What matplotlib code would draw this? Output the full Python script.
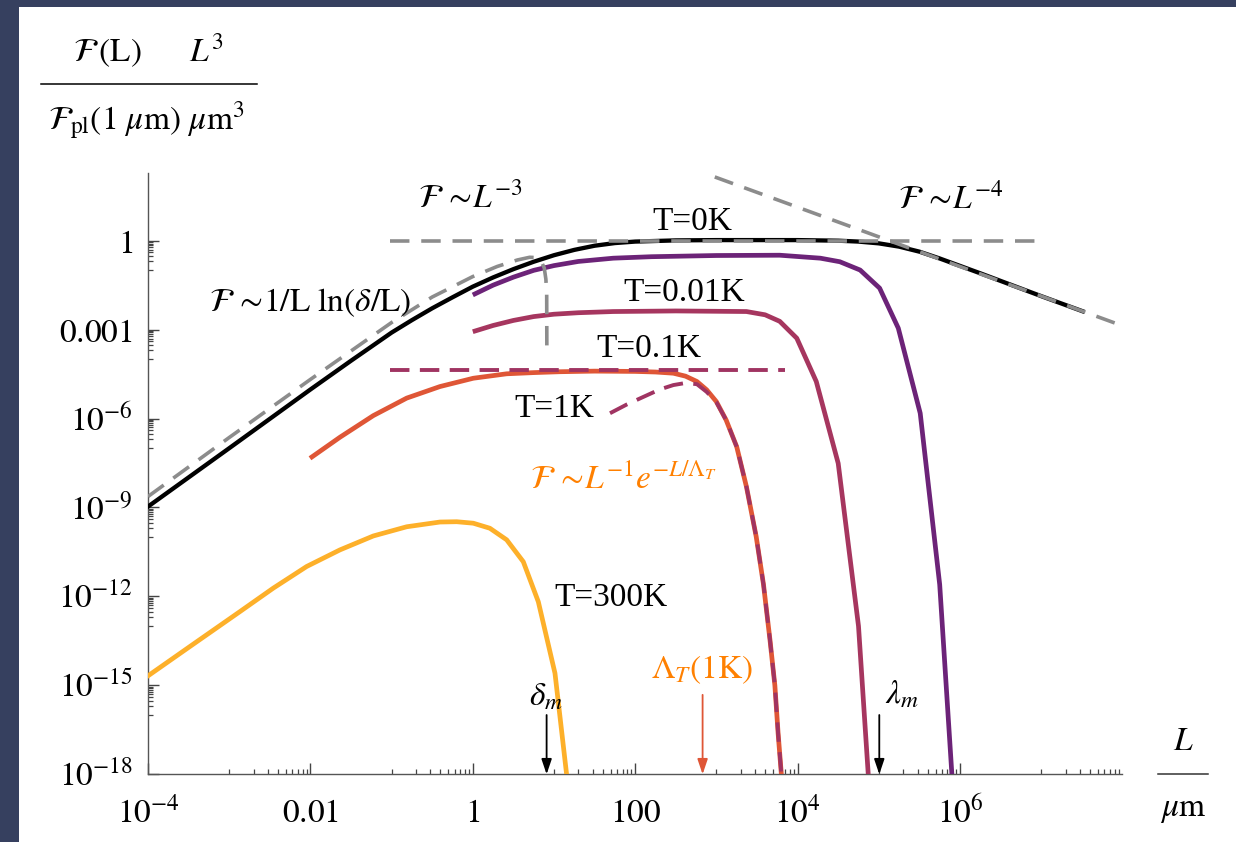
import numpy as np
import matplotlib
matplotlib.use('Agg')
import matplotlib.pyplot as plt
from matplotlib.patches import Rectangle
from matplotlib.lines import Line2D
from matplotlib.transforms import blended_transform_factory, ScaledTranslation

plt.rcParams['font.family'] = ['Liberation Serif', 'DejaVu Serif']
plt.rcParams['mathtext.fontset'] = 'stix'
plt.rcParams['lines.scale_dashes'] = False

# ---------------- data (log10 of L/um and of F L^3 / (F_pl(1um) um^3)) ----------------
t0_logL = [-4, -3, -2, -1.5, -1.0, -0.75, -0.5, -0.25, 0, 0.25, 0.5, 0.75, 1.0, 1.25, 1.5, 1.75, 2.0, 2.5,
           3.0, 4.0, 4.5, 4.75, 5.0, 5.25, 5.5, 5.75, 6.0, 6.25, 7.0, 7.51]
t0_logF = [-8.97, -7.0, -5.02, -4.05, -3.10, -2.68, -2.28, -1.91, -1.55, -1.24, -0.96, -0.71, -0.49, -0.31,
           -0.17, -0.08, -0.03, 0.01, 0.02, 0.02, 0.0, -0.03, -0.09, -0.2, -0.37, -0.6, -0.85, -1.1, -1.87, -2.38]

asym_ln_logL = [-4, -3, -2, -1, -0.5, 0, 0.3, 0.55, 0.7, 0.78, 0.84, 0.88, 0.9, 0.91, 0.912]
asym_ln_logF = [-8.63, -6.64, -4.68, -2.76, -1.9, -1.21, -0.87, -0.65, -0.56, -0.57, -0.68, -0.92, -1.3, -1.8, -3.7]

asym_flat_logL = [-1.02, 6.95]
asym_flat_logF = [0.0, 0.0]

asym_L4_logL = [2.98, 7.91]
asym_L4_logF = [2.15, -2.78]

t001_logL = [0.0, 0.25, 0.5, 0.75, 1.0, 1.3, 1.73, 2.2, 3.0, 3.78, 4.28, 4.52, 4.77, 5.01, 5.24, 5.51, 5.75, 5.90]
t001_logF = [-1.83, -1.5, -1.23, -1.0, -0.84, -0.7, -0.59, -0.54, -0.5, -0.49, -0.59, -0.71, -0.99, -1.6,
             -2.95, -5.82, -11.6, -18.0]

t01_logL = [0.0, 0.25, 0.5, 0.75, 1.0, 1.3, 1.73, 2.5, 3.37, 3.6, 3.78, 3.99, 4.23, 4.50, 4.75, 4.87]
t01_logF = [-3.07, -2.86, -2.69, -2.56, -2.48, -2.43, -2.39, -2.37, -2.39, -2.5, -2.72, -3.29, -4.75, -7.51,
            -13.0, -18.0]

t1_logL = [-2.005, -1.636, -1.225, -0.814, -0.404, 0.006, 0.417, 0.75, 1.074, 1.5, 2.0, 2.25, 2.47, 2.62, 2.76,
           2.88, 3.0, 3.12, 3.25, 3.37, 3.49, 3.58, 3.66, 3.72, 3.76, 3.80]
t1_logF = [-7.34, -6.63, -5.90, -5.31, -4.92, -4.64, -4.49, -4.45, -4.42, -4.40, -4.41, -4.43, -4.47, -4.57,
           -4.75, -5.03, -5.43, -6.05, -6.95, -8.3, -9.98, -11.6, -13.47, -15.0, -16.62, -18.0]

t1_asym_logL = [1.69, 1.9, 2.14, 2.3, 2.47, 2.62, 2.76, 2.88, 3.0, 3.12, 3.25, 3.37, 3.49, 3.58, 3.66, 3.72, 3.76, 3.80]
t1_asym_logF = [-5.82, -5.52, -5.22, -5.02, -4.87, -4.80, -4.84, -5.10, -5.45, -6.05, -6.95, -8.3, -9.98,
                -11.6, -13.47, -15.0, -16.62, -18.0]

t01_flat_logL = [-1.02, 3.84]
t01_flat_logF = [-4.36, -4.36]

t300_logL = [-4.016, -3.5, -2.867, -2.457, -2.046, -1.636, -1.225, -0.814, -0.404, -0.198, 0.006, 0.21, 0.417,
             0.622, 0.807, 1.012, 1.156]
t300_logF = [-14.71, -13.72, -12.51, -11.72, -10.99, -10.43, -9.96, -9.65, -9.49, -9.48, -9.53, -9.70, -10.09,
             -10.83, -12.18, -14.59, -18.02]

# markers on the L axis (log10 of L/um)
delta_m_logL = 0.909
lambda_m_logL = 5.006
Lambda_T_logL = 2.83

x_tick_vals = [1e-4, 1e-2, 1, 1e2, 1e4, 1e6]
x_tick_labels = [r'$10^{-4}$', r'$0.01$', r'$1$', r'$100$', r'$10^{4}$', r'$10^{6}$']
y_tick_vals = [1e-18, 1e-15, 1e-12, 1e-9, 1e-6, 1e-3, 1]
y_tick_labels = [r'$10^{-18}$', r'$10^{-15}$', r'$10^{-12}$', r'$10^{-9}$', r'$10^{-6}$', r'$0.001$', r'$1$']

# ---------------- figure ----------------
W, H = 1236, 842
fig = plt.figure(figsize=(W / 100, H / 100), dpi=100)
fig.patch.set_facecolor('#36405f')
fig.patches.append(Rectangle((19 / W, 0), 1, 1 - 7 / H, transform=fig.transFigure,
                             facecolor='white', edgecolor='none', zorder=-10))

ax = fig.add_axes([148 / W, 1 - 774.3 / H, 974.4 / W, 601.2 / H])
ax.set_xscale('log')
ax.set_yscale('log')
ax.set_xlim(1e-4, 1e8)
ax.set_ylim(1e-18, 10 ** 2.28)
ax.patch.set_alpha(0)

for s in ['top', 'right']:
    ax.spines[s].set_visible(False)
for s in ['left', 'bottom']:
    ax.spines[s].set_color('#555555')
    ax.spines[s].set_linewidth(1.0)

P = lambda a: np.power(10.0, np.asarray(a, dtype=float))

GRAY = '#8c8c8c'
MAROON = '#a03462'
kw = dict(lw=3.4, solid_joinstyle='round', solid_capstyle='butt', zorder=3)

ax.plot(P(t300_logL), P(t300_logF), color='#fdb02a', **kw)
ax.plot(P(t1_logL), P(t1_logF), color='#df5636', **kw)
ax.plot(P(t01_logL), P(t01_logF), color='#a6365f', **kw)
ax.plot(P(t001_logL), P(t001_logF), color='#6c2378', **kw)
ax.plot(P(t0_logL), P(t0_logF), color='black', lw=3.1, solid_joinstyle='round', zorder=4)

ax.plot(P(asym_ln_logL), P(asym_ln_logF), color=GRAY, lw=2.6, dashes=(14, 8.5), zorder=5)
ax.plot(P(asym_flat_logL), P(asym_flat_logF), color=GRAY, lw=2.6, dashes=(14, 8.5), zorder=5)
ax.plot(P(asym_L4_logL), P(asym_L4_logF), color=GRAY, lw=2.6, dashes=(14, 8.5), zorder=5)
ax.plot(P(t01_flat_logL), P(t01_flat_logF), color=MAROON, lw=2.8, dashes=(14, 7.5), zorder=5)
ax.plot(P(t1_asym_logL), P(t1_asym_logF), color=MAROON, lw=2.8, dashes=(14, 7.5), zorder=5)

# ticks
ax.set_xticks(x_tick_vals)
ax.set_yticks(y_tick_vals)
xminor = [m * 10.0 ** (k - 1) for k in [-4, -2, 0, 2, 4, 6, 8] for m in range(1, 10)]
yminor = [m * 10.0 ** (k - 1) for k in [-18, -15, -12, -9, -6, -3, 0] for m in range(1, 10)]
ax.set_xticks([v for v in xminor if 1e-4 < v < 1e8], minor=True)
ax.set_yticks([v for v in yminor if 1e-18 < v < 10 ** 2.28], minor=True)
ax.tick_params(which='major', direction='in', length=8, width=1.0, color='#444444',
               labelbottom=False, labelleft=False)
ax.tick_params(which='minor', direction='in', length=3.5, width=0.9, color='#444444',
               labelbottom=False, labelleft=False)

FS = 24
xtr = blended_transform_factory(ax.transData, ax.transAxes) + ScaledTranslation(0, -0.48, fig.dpi_scale_trans)
for v, lab in zip(x_tick_vals, x_tick_labels):
    ax.text(v, 0, lab, transform=xtr, ha='center', va='baseline', fontsize=FS, clip_on=False)
ytr = blended_transform_factory(ax.transAxes, ax.transData) + ScaledTranslation(-0.15, -0.12, fig.dpi_scale_trans)
for v, lab in zip(y_tick_vals, y_tick_labels):
    ax.text(0, v, lab, transform=ytr, ha='right', va='baseline', fontsize=FS, clip_on=False)

# axis labels
fig.text(148 / W, 1 - 62 / H, r'$\mathcal{F}\,(\mathrm{L})\qquad L^{3}$', ha='center', va='baseline', fontsize=FS)
fig.add_artist(Line2D([41 / W, 257 / W], [1 - 83.5 / H, 1 - 83.5 / H], color='black', lw=1.1))
fig.text(146 / W, 1 - 130 / H, r'$\mathcal{F}_{\mathrm{pl}}(1\ \mu\mathrm{m})\ \mu\mathrm{m}^{3}$',
         ha='center', va='baseline', fontsize=FS)

fig.text(1183 / W, 1 - 750 / H, r'$L$', ha='center', va='baseline', fontsize=FS)
fig.add_artist(Line2D([1158 / W, 1208 / W], [1 - 774.3 / H, 1 - 774.3 / H], color='#333333', lw=1.1))
fig.text(1183 / W, 1 - 816 / H, r'$\mu\mathrm{m}$', ha='center', va='baseline', fontsize=FS)

# annotations
def T(lx, ly, s, color='black', **k):
    ax.text(10 ** lx, 10 ** ly, s, ha='center', va='center', fontsize=FS, color=color, zorder=6, **k)

T(-0.034, 1.44, r'$\mathcal{F}\,\sim\!L^{-3}$')
T(2.70, 0.64, 'T=0K')
T(5.89, 1.41, r'$\mathcal{F}\,\sim\!L^{-4}$')
T(-2.005, -2.08, r'$\mathcal{F}\,\sim\!1/\mathrm{L}\ \ln(\delta/\mathrm{L})$')
T(2.60, -1.745, 'T=0.01K')
T(2.17, -3.65, 'T=0.1K')
T(1.0, -5.68, 'T=1K')
T(1.86, -8.07, r'$\mathcal{F}\,\sim\!L^{-1}e^{-L/\Lambda_T}$', color='#ff8000')
T(1.70, -12.03, 'T=300K')
T(2.82, -14.48, r'$\Lambda_T(1\mathrm{K})$', color='#ff8000')
T(0.895, -15.39, r'$\delta_m$')
T(5.29, -15.32, r'$\lambda_m$')

def arrow(lx, ly0, color):
    ax.annotate('', xy=(10 ** lx, 1e-18), xytext=(10 ** lx, 10 ** ly0),
                arrowprops=dict(arrowstyle='-|>,head_length=0.65,head_width=0.22', color=color,
                                lw=1.3, shrinkA=0, shrinkB=0, mutation_scale=14),
                zorder=6, annotation_clip=False)

arrow(delta_m_logL, -16.0, 'black')
arrow(lambda_m_logL, -16.0, 'black')
arrow(Lambda_T_logL, -15.32, '#df5636')

fig.savefig('out.png', dpi=100, facecolor=fig.get_facecolor())
